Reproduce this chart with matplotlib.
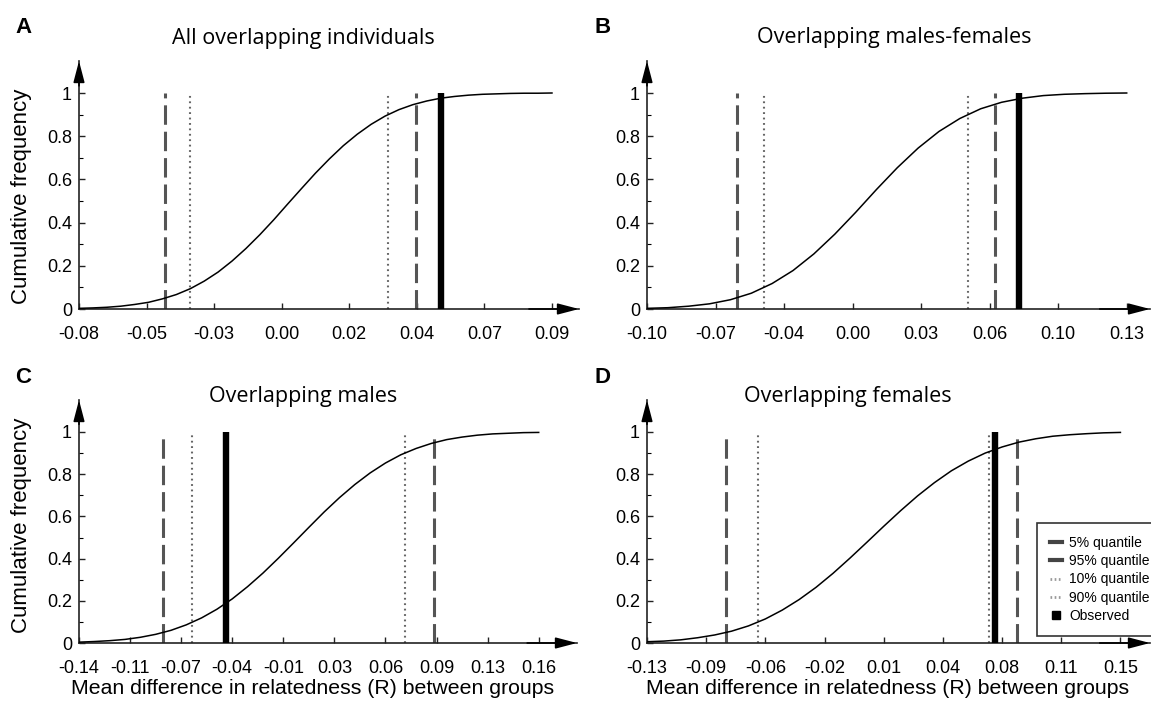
import numpy as np
import matplotlib
matplotlib.use("Agg")
import matplotlib.pyplot as plt
from matplotlib.lines import Line2D

# ---------------- data ----------------
titles = ["All overlapping individuals", "Overlapping males-females",
          "Overlapping males", "Overlapping females"]
letters = ["A", "B", "C", "D"]

xtick_labels_A = ["-0.08", "-0.05", "-0.03", "0.00", "0.02", "0.04", "0.07", "0.09"]
xtick_labels_B = ["-0.10", "-0.07", "-0.04", "0.00", "0.03", "0.06", "0.10", "0.13"]
xtick_labels_C = ["-0.14", "-0.11", "-0.07", "-0.04", "-0.01", "0.03", "0.06", "0.09", "0.13", "0.16"]
xtick_labels_D = ["-0.13", "-0.09", "-0.06", "-0.02", "0.01", "0.04", "0.08", "0.11", "0.15"]

ytick_values = [0, 0.2, 0.4, 0.6, 0.8, 1.0]
ytick_labels = ["0", "0.2", "0.4", "0.6", "0.8", "1"]

# cumulative frequency curves
curve_A_x = [-0.080, -0.075, -0.070, -0.065, -0.060, -0.055, -0.050, -0.045, -0.040, -0.035,
             -0.030, -0.025, -0.020, -0.015, -0.010, -0.005, 0.000, 0.005, 0.010, 0.015,
             0.020, 0.025, 0.030, 0.035, 0.040, 0.045, 0.050, 0.055, 0.060, 0.065,
             0.070, 0.075, 0.080, 0.085, 0.090]
curve_A_y = [0.003, 0.005, 0.008, 0.013, 0.021, 0.031, 0.047, 0.067, 0.094, 0.129,
             0.171, 0.222, 0.280, 0.344, 0.413, 0.486, 0.558, 0.629, 0.695, 0.756,
             0.809, 0.855, 0.893, 0.923, 0.946, 0.963, 0.976, 0.984, 0.990, 0.994,
             0.996, 0.998, 0.999, 0.999, 1.000]

curve_B_x = [-0.10, -0.09, -0.08, -0.07, -0.06, -0.05, -0.04, -0.03, -0.02, -0.01, 0.00,
             0.01, 0.02, 0.03, 0.04, 0.05, 0.06, 0.07, 0.08, 0.09, 0.10, 0.11, 0.12, 0.13]
curve_B_y = [0.003, 0.006, 0.013, 0.024, 0.043, 0.073, 0.118, 0.178, 0.255, 0.346, 0.447,
             0.553, 0.654, 0.745, 0.822, 0.882, 0.927, 0.957, 0.976, 0.988, 0.994, 0.997,
             0.999, 1.000]

curve_C_x = [-0.14, -0.13, -0.12, -0.11, -0.10, -0.09, -0.08, -0.07, -0.06, -0.05, -0.04,
             -0.03, -0.02, -0.01, 0.00, 0.01, 0.02, 0.03, 0.04, 0.05, 0.06, 0.07, 0.08,
             0.09, 0.10, 0.11, 0.12, 0.13, 0.14, 0.15, 0.16]
curve_C_y = [0.004, 0.007, 0.011, 0.017, 0.027, 0.041, 0.060, 0.086, 0.119, 0.160, 0.209,
             0.267, 0.331, 0.401, 0.474, 0.548, 0.621, 0.689, 0.751, 0.806, 0.853, 0.892,
             0.922, 0.946, 0.964, 0.976, 0.985, 0.991, 0.994, 0.997, 0.998]

curve_D_x = [-0.13, -0.12, -0.11, -0.10, -0.09, -0.08, -0.07, -0.06, -0.05, -0.04, -0.03,
             -0.02, -0.01, 0.00, 0.01, 0.02, 0.03, 0.04, 0.05, 0.06, 0.07, 0.08, 0.09,
             0.10, 0.11, 0.12, 0.13, 0.14, 0.15]
curve_D_y = [0.006, 0.009, 0.015, 0.025, 0.038, 0.056, 0.081, 0.114, 0.156, 0.206, 0.264,
             0.330, 0.402, 0.477, 0.553, 0.627, 0.697, 0.760, 0.816, 0.862, 0.900, 0.929,
             0.952, 0.968, 0.980, 0.987, 0.992, 0.996, 0.998]

# quantiles and observed values
q05 = [-0.049, -0.057, -0.085, -0.083]
q95 = [0.041, 0.067, 0.092, 0.089]
q10 = [-0.040, -0.044, -0.066, -0.0645]
q90 = [0.031, 0.054, 0.073, 0.072]
observed = [0.050, 0.0785, -0.044, 0.076]

legend_labels = ["5% quantile", "95% quantile", "10% quantile", "90% quantile", "Observed"]

# ---------------- layout ----------------
W, H = 1151, 706
plt.rcParams["font.family"] = ["Liberation Sans", "DejaVu Sans"]
plt.rcParams["lines.scale_dashes"] = False
fig = plt.figure(figsize=(W / 100, H / 100), dpi=100)

# (left px, x-axis y px, top px, right px, axis extent in tick steps)
geom = [(79, 309, 61, 579, 7.40),
        (647, 309, 61, 1150, 7.34),
        (79, 643, 400, 577, 9.75),
        (647, 643, 400, 1150, 8.50)]
ypx_per_unit = [216, 216, 211, 211]

tick_sets = [xtick_labels_A, xtick_labels_B, xtick_labels_C, xtick_labels_D]
curves = [(curve_A_x, curve_A_y), (curve_B_x, curve_B_y),
          (curve_C_x, curve_C_y), (curve_D_x, curve_D_y)]

axes = []
for i in range(4):
    left, ybot, ytop, right, ext = geom[i]
    ax = fig.add_axes([left / W, 1 - ybot / H, (right - left) / W, (ybot - ytop) / H])
    labs = tick_sets[i]
    t0, t1 = float(labs[0]), float(labs[-1])
    step = (t1 - t0) / (len(labs) - 1)
    ticks = np.linspace(t0, t1, len(labs))
    ax.set_xlim(t0, t0 + ext * step)
    ax.set_ylim(0, (ybot - ytop) / ypx_per_unit[i])

    for s in ["top", "right"]:
        ax.spines[s].set_visible(False)
    for s in ["left", "bottom"]:
        ax.spines[s].set_linewidth(1.2)
        ax.spines[s].set_color("#222222")

    ax.set_xticks(ticks, labs)
    ax.set_yticks(ytick_values, ytick_labels)
    ax.set_yticks([0.1, 0.3, 0.5, 0.7, 0.9], minor=True)
    ax.tick_params(axis="both", which="major", direction="in", length=4, width=1,
                   labelsize=13, color="#222222")
    ax.tick_params(axis="x", pad=12)
    ax.tick_params(axis="y", pad=5)
    ax.tick_params(axis="y", which="minor", direction="in", length=3, width=0.8)

    # arrows at axis ends
    ax.annotate("", xy=(1, 0), xycoords="axes fraction", xytext=(0.9, 0),
                arrowprops=dict(arrowstyle="-|>,head_length=1.3,head_width=0.34",
                                color="black", lw=1.2, shrinkA=0, shrinkB=0),
                annotation_clip=False)
    ax.annotate("", xy=(0, 1), xycoords="axes fraction", xytext=(0, 0.9),
                arrowprops=dict(arrowstyle="-|>,head_length=1.3,head_width=0.34",
                                color="black", lw=1.2, shrinkA=0, shrinkB=0),
                annotation_clip=False)

    # quantile lines
    for q in (q05[i], q95[i]):
        ax.plot([q, q], [0, 1], color="#555555", lw=2.2, dashes=(14, 5),
                solid_capstyle="butt", dash_capstyle="butt", zorder=2)
    for q in (q10[i], q90[i]):
        ax.plot([q, q], [0, 1], color="#666666", lw=1.5, dashes=(1.3, 2.6), zorder=2)
    ax.plot([observed[i], observed[i]], [0, 1], color="black", lw=4.6,
            solid_capstyle="butt", zorder=3)

    cx, cy = curves[i]
    ax.plot(cx, cy, color="black", lw=1.1, zorder=4)
    axes.append(ax)

# titles and panel letters
title_pos = [(303, 44), (894, 43), (303, 402), (848, 402)]
letter_pos = [(15, 33), (595, 33), (15, 383), (595, 383)]
for i in range(4):
    fig.text(title_pos[i][0] / W, 1 - title_pos[i][1] / H, titles[i], ha="center",
             va="baseline", fontsize=15.5, family=["Open Sans", "DejaVu Sans"])
    fig.text(letter_pos[i][0] / W, 1 - letter_pos[i][1] / H, letters[i], ha="left",
             va="baseline", fontsize=16, fontweight="bold")

# axis labels
for (x, y) in [(22, 196), (22, 525)]:
    fig.text(x / W, 1 - y / H, "Cumulative frequency", rotation=90, ha="center",
             va="center", fontsize=16)
for (x, y) in [(313, 689), (888, 689)]:
    fig.text(x / W, 1 - y / H, "Mean difference in relatedness (R) between groups",
             ha="center", va="center", fontsize=15.3)

# legend
handles = [Line2D([], [], color="#444444", lw=3),
           Line2D([], [], color="#444444", lw=3),
           Line2D([], [], color="#999999", lw=2, dashes=(1.2, 1.8)),
           Line2D([], [], color="#999999", lw=2, dashes=(1.2, 1.8)),
           Line2D([], [], color="black", marker="s", markersize=6, ls="none")]
leg = fig.legend(handles, legend_labels, loc="upper left",
                 bbox_to_anchor=(1037 / W, 1 - 523 / H), frameon=True, fancybox=False,
                 fontsize=10, handlelength=0.9, handletextpad=0.5, borderpad=0.9,
                 labelspacing=0.32, borderaxespad=0)
leg.get_frame().set_edgecolor("black")
leg.get_frame().set_linewidth(1.2)

fig.savefig("out.png", dpi=100)
